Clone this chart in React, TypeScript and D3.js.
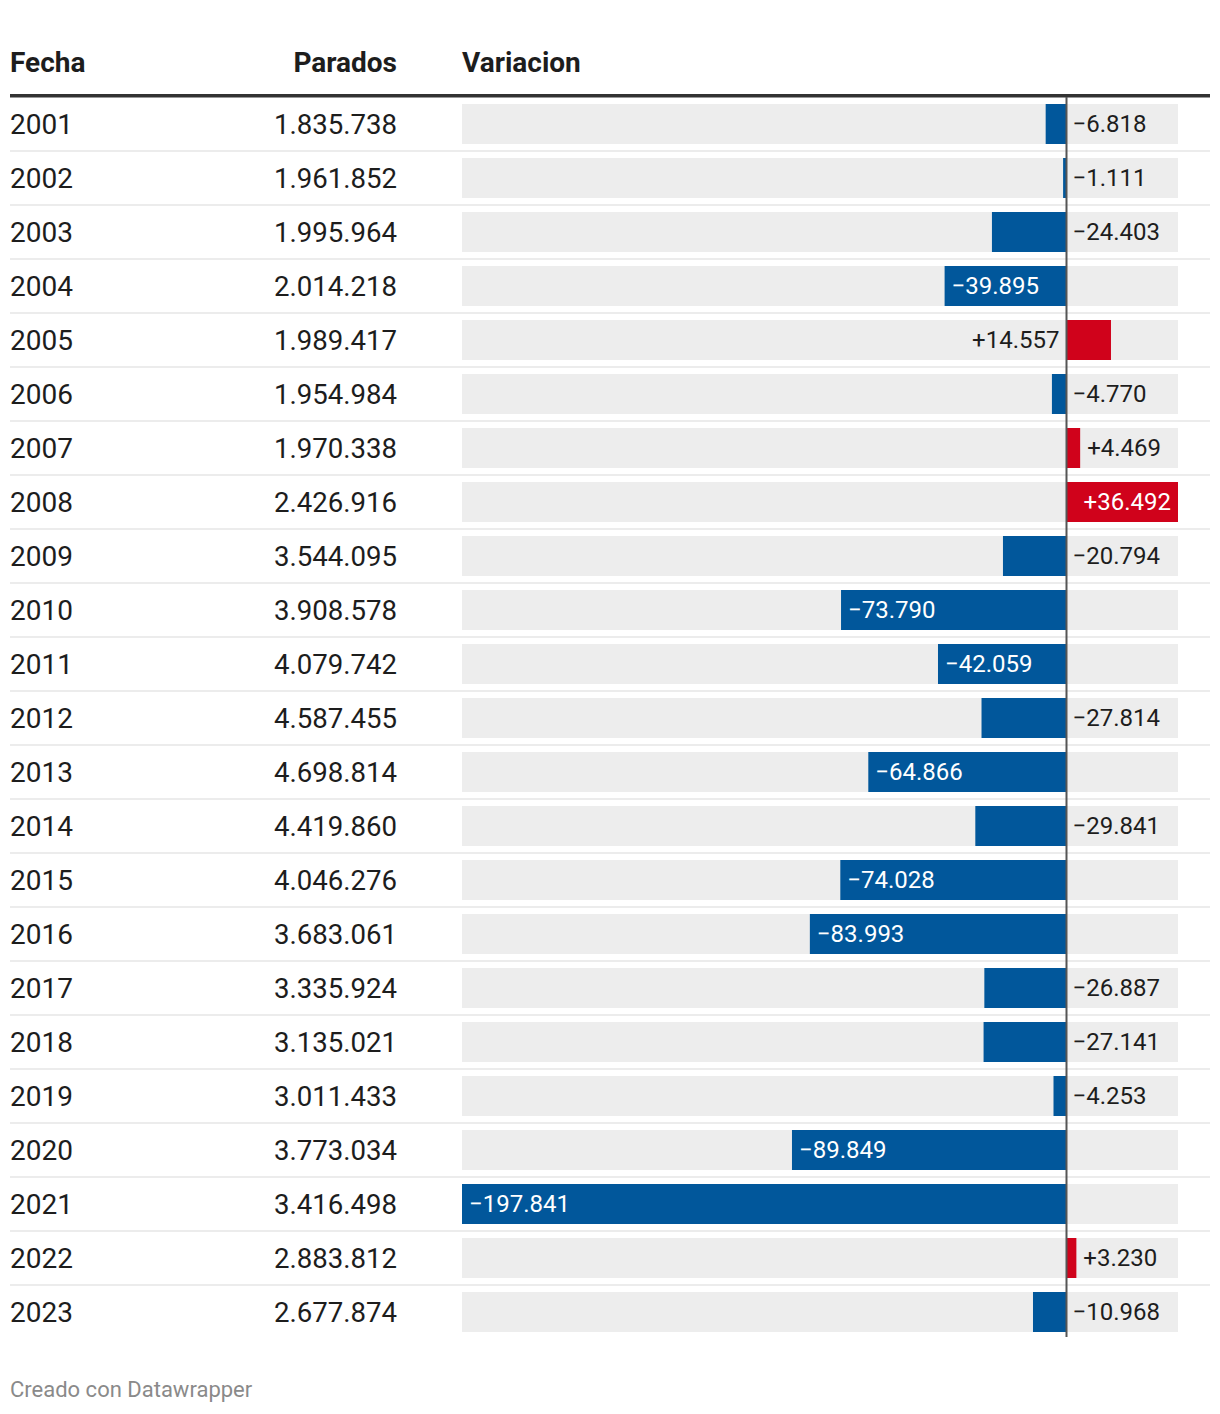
import React from "react";
import * as d3 from "d3";

const years: string[] = ["2001","2002","2003","2004","2005","2006","2007","2008","2009","2010","2011","2012","2013","2014","2015","2016","2017","2018","2019","2020","2021","2022","2023"];
const parados: number[] = [1835738,1961852,1995964,2014218,1989417,1954984,1970338,2426916,3544095,3908578,4079742,4587455,4698814,4419860,4046276,3683061,3335924,3135021,3011433,3773034,3416498,2883812,2677874];
const variacion: number[] = [-6818,-1111,-24403,-39895,14557,-4770,4469,36492,-20794,-73790,-42059,-27814,-64866,-29841,-74028,-83993,-26887,-27141,-4253,-89849,-197841,3230,-10968];
const headers: string[] = ["Fecha", "Parados", "Variacion"];
const footer = "Creado con Datawrapper";

const W = 1220, H = 1414;
const FONT = "Roboto, 'Noto Sans', sans-serif";
const BLUE = "#01579b";
const RED = "#d0021b";
const BG = "#ededed";
const TEXT = "#1d1d1d";

const fmtInt = (v: number) => {
  const s = Math.abs(Math.round(v)).toString().replace(/\B(?=(\d{3})+(?!\d))/g, ".");
  return s;
};
const fmtVar = (v: number) => (v < 0 ? "\u2212" : "+") + fmtInt(v);

let ctx: CanvasRenderingContext2D | null = null;
function textWidth(t: string, size: number): number {
  if (!ctx && typeof document !== "undefined") {
    ctx = document.createElement("canvas").getContext("2d");
  }
  if (ctx) {
    ctx.font = `${size}px Roboto`;
    return ctx.measureText(t).width;
  }
  return t.length * size * 0.55;
}

export default function App() {
  const rowTop = 97;
  const pitch = 54;
  const bandH = 40;
  const x = d3.scaleLinear()
    .domain([d3.min(variacion) as number, d3.max(variacion) as number])
    .range([462, 1178]);
  const x0 = x(0);
  const y = d3.scaleBand<string>().domain(years).range([rowTop, rowTop + pitch * years.length]);
  const centerY = (yr: string) => (y(yr) as number) + pitch / 2;
  const labelSize = 24;
  const pad = 7;

  return (
    <svg width={W} height={H} style={{ position: "absolute", left: 0, top: 0, background: "#fff" }} fontFamily={FONT}>
      {/* headers */}
      <text x={10} y={72} fontSize={28} fontWeight={700} fill={TEXT}>{headers[0]}</text>
      <text x={397} y={72} fontSize={28} fontWeight={700} fill={TEXT} textAnchor="end">{headers[1]}</text>
      <text x={462} y={72} fontSize={28} fontWeight={700} fill={TEXT}>{headers[2]}</text>
      <rect x={10} y={94} width={1200} height={3.5} fill="#333" />

      {years.map((yr, i) => {
        const cy = centerY(yr);
        const v = variacion[i];
        const bx = Math.min(x(v), x0);
        const bw = Math.abs(x(v) - x0);
        const label = fmtVar(v);
        const tw = textWidth(label, labelSize);
        let lx: number, anchor: string, fill: string;
        if (v < 0) {
          if (bw >= tw + 2 * pad) { lx = x(v) + pad; anchor = "start"; fill = "#fff"; }
          else { lx = x0 + pad - 1; anchor = "start"; fill = TEXT; }
        } else {
          if (bw >= tw + 2 * pad) { lx = x(v) - pad; anchor = "end"; fill = "#fff"; }
          else if (x(v) + pad + tw <= x.range()[1]) { lx = x(v) + pad; anchor = "start"; fill = TEXT; }
          else { lx = x0 - pad; anchor = "end"; fill = TEXT; }
        }
        return (
          <g key={yr}>
            {i < years.length - 1 && (
              <rect x={10} y={cy + 26} width={1200} height={2} fill="#ececec" />
            )}
            <text x={10} y={cy + 9.5} fontSize={28} fill={TEXT}>{yr}</text>
            <text x={397} y={cy + 9.5} fontSize={27.6} fill={TEXT} textAnchor="end">{fmtInt(parados[i])}</text>
            <rect x={x.range()[0]} y={cy - bandH / 2} width={x.range()[1] - x.range()[0]} height={bandH} fill={BG} />
            <rect x={bx} y={cy - bandH / 2} width={bw} height={bandH} fill={v < 0 ? BLUE : RED} />
            <text x={lx} y={cy + 8.3} fontSize={labelSize} fill={fill} textAnchor={anchor}>{label}</text>
          </g>
        );
      })}

      <line x1={x0} x2={x0} y1={97} y2={1337} stroke="#555" strokeWidth={2} />

      <text x={10} y={1397} fontSize={22} fill="#8a8a8a">{footer}</text>
    </svg>
  );
}
